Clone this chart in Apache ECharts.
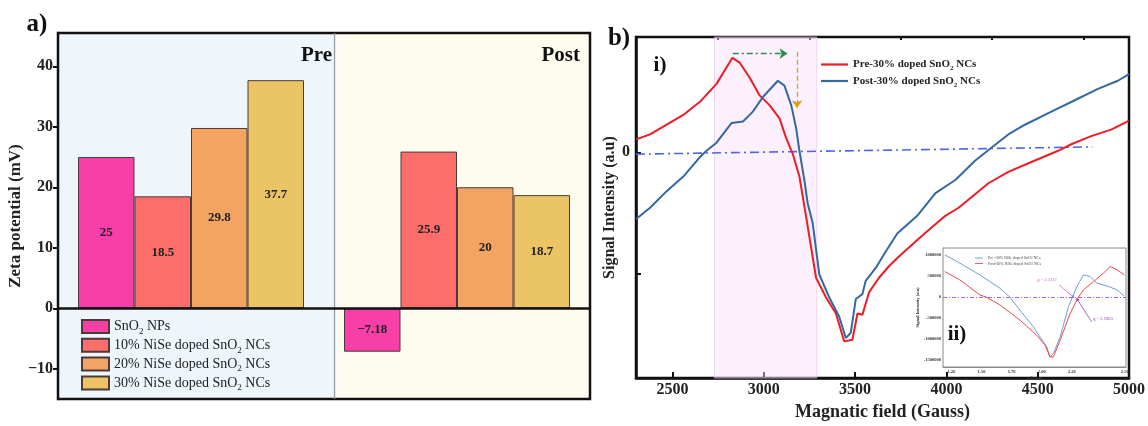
<!DOCTYPE html>
<html>
<head>
<meta charset="utf-8">
<script src="https://cdn.jsdelivr.net/npm/echarts@6/dist/echarts.min.js"></script>
<style>html,body{margin:0;padding:0;background:#fff;}#c{width:1148px;height:426px;}</style>
</head>
<body>
<div id="c"></div>
<script>
// ---------- (a) Zeta potential ----------
const zetaGroups = ['Pre', 'Post'];
const zetaSeriesNames = ['SnO2 NPs', '10% NiSe doped SnO2 NCs', '20% NiSe doped SnO2 NCs', '30% NiSe doped SnO2 NCs'];
const zetaPre = [25, 18.5, 29.8, 37.7];
const zetaPost = [-7.18, 25.9, 20, 18.7];
const zetaTickLabels = [-10, 0, 10, 20, 30, 40];
const zetaMinorTicks = [-5, 5, 15, 25, 35];

// ---------- (b-i) ESR spectra ----------
const esrNames = ['Pre-30% doped SnO2 NCs', 'Post-30% doped SnO2 NCs'];
const preField = [2301, 2377, 2468, 2559, 2650, 2741, 2828, 2868, 2922, 2977, 3031, 3086, 3122, 3158, 3195, 3231, 3286, 3340, 3395, 3440, 3485, 3513, 3540, 3576, 3631, 3685, 3740, 3865, 3994, 4067, 4230, 4339, 4485, 4612, 4684, 4793, 4902, 4998];
const preSignal = [0.107, 0.148, 0.228, 0.309, 0.417, 0.565, 0.780, 0.74, 0.618, 0.47, 0.39, 0.28, 0.12, -0.01, -0.2, -0.524, -1.035, -1.196, -1.33, -1.56, -1.546, -1.33, -1.34, -1.156, -1.035, -0.94, -0.86, -0.69, -0.524, -0.457, -0.255, -0.161, -0.067, 0.013, 0.067, 0.134, 0.188, 0.26];
const postField = [2301, 2377, 2468, 2559, 2650, 2686, 2741, 2823, 2886, 2940, 2995, 3077, 3113, 3150, 3177, 3195, 3222, 3240, 3267, 3304, 3358, 3413, 3449, 3476, 3504, 3540, 3558, 3613, 3667, 3731, 3840, 3940, 4049, 4158, 4248, 4339, 4430, 4575, 4703, 4830, 4939, 5000];
const postSignal = [-0.55, -0.457, -0.32, -0.2, -0.04, 0.013, 0.08, 0.242, 0.255, 0.336, 0.457, 0.591, 0.551, 0.39, 0.2, 0.013, -0.228, -0.42, -0.578, -1.008, -1.196, -1.357, -1.532, -1.49, -1.21, -1.17, -1.06, -0.954, -0.82, -0.67, -0.524, -0.336, -0.228, -0.067, 0.04, 0.148, 0.228, 0.336, 0.43, 0.524, 0.591, 0.645];
const baselineField = [2300, 4800];
const baselineSignal = [-0.015, 0.045];
const fieldTicks = [2500, 3000, 3500, 4000, 4500, 5000];
const fieldMinorTicks = [2750, 3250, 3750, 4250, 4750];
const highlightField = [2730, 3290];
const shiftArrowField = [2830, 3130];
const shiftArrowSignal = 0.815;
const dropArrowField = 3182;
const dropArrowSignal = [0.83, 0.363];

// ---------- (b-ii) inset, g-factor ----------
const insetNames = ['Pre -30% NiSe doped SnO2 NCs', 'Post-30% NiSe doped SnO2 NCs'];
const insetBlueG = [1.194, 1.319, 1.486, 1.653, 1.736, 1.819, 1.930, 2.013, 2.042, 2.069, 2.097, 2.153, 2.222, 2.292, 2.347, 2.403, 2.458, 2.542, 2.625, 2.686];
const insetBlueI = [1012000, 813000, 533000, 215000, 0, -304000, -703000, -1062000, -1182000, -1421000, -1340000, -943000, -225000, 254000, 533000, 493000, 335000, 270000, 175000, 30000];
const insetRedG = [1.194, 1.319, 1.486, 1.542, 1.653, 1.819, 1.958, 2.028, 2.069, 2.097, 2.153, 2.236, 2.305, 2.347, 2.430, 2.513, 2.569, 2.625, 2.686];
const insetRedI = [612000, 414000, 55000, 0, -184000, -543000, -902000, -1141000, -1421000, -1421000, -1021000, -383000, 0, 175000, 373000, 574000, 732000, 653000, 533000];
const insetTickValues = [1.25, 1.5, 1.75, 2.0, 2.25, 2.69];
const insetTickLabels = ['1.26', '1.50', '1.76', '2.00', '2.26', '2.50'];
const insetYTicks = [-1500000, -1000000, -500000, 0, 500000, 1000000];
const insetBands = [[2.208, 2.263], [2.263, 2.319]];
const gAnnotations = ['g = 2.1317', 'g = 2.1663'];

// ---------- styles ----------
const SERIF = "'Times New Roman','Liberation Serif','DejaVu Serif',serif";
const barColors = ['#f73fa7', '#fd6e6a', '#f3a463', '#ebc466'];
const subFmt = (name) => name.split('SnO2').map(p => p ? '{n|' + p + '}' : '').join('{n|SnO}{s|2}');
const minus = (v) => (v < 0 ? '\u2212' + Math.abs(v) : String(v));
const plain = (v) => String(v);

const chart = echarts.init(document.getElementById('c'), null, { renderer: 'canvas' });

const barSeries = zetaSeriesNames.map((name, i) => ({
  name: name,
  type: 'bar',
  xAxisIndex: 0,
  yAxisIndex: 0,
  data: [zetaPre[i], zetaPost[i]],
  barWidth: 56.5,
  barGap: '0%',
  z: 3,
  itemStyle: { color: barColors[i], borderColor: '#4a3a3a', borderWidth: 1 },
  label: {
    show: true, position: 'inside', fontFamily: SERIF, fontWeight: 'bold', fontSize: 13, color: '#222',
    formatter: (p) => minus(p.value)
  }
}));
// thick zero line across panel (a)
barSeries[0].markLine = { silent: true, symbol: 'none', label: { show: false }, z: 10,
  lineStyle: { color: '#111', width: 2.6, type: 'solid' }, data: [{ yAxis: 0 }] };

const option = {
  animation: false,
  backgroundColor: '#ffffff',
  grid: [
    { left: 58, top: 33, width: 532, height: 366, show: true, borderColor: '#111', borderWidth: 2.5, backgroundColor: 'transparent', z: 4 },
    { left: 636, top: 37, width: 495, height: 349, show: true, borderColor: '#111', borderWidth: 2.5, backgroundColor: 'transparent' },
    { left: 943, top: 248, width: 183, height: 119, show: true, borderColor: '#8a8a8a', borderWidth: 1, backgroundColor: '#ffffff', z: 5 }
  ],
  xAxis: [
    { type: 'category', gridIndex: 0, data: zetaGroups,
      axisLine: { show: false },
      axisTick: { show: false }, axisLabel: { show: false }, splitLine: { show: false } },
    { type: 'value', gridIndex: 0, min: 0, max: 1, show: false },
    { type: 'value', gridIndex: 1, min: 2300, max: 5000,
      axisLine: { show: true, onZero: false, lineStyle: { color: '#111', width: 2.5 } },
      axisTick: { inside: true, length: 6, lineStyle: { color: '#111', width: 2 }, customValues: fieldTicks },
      axisLabel: { customValues: fieldTicks, fontFamily: SERIF, fontWeight: 'bold', fontSize: 16, color: '#222', margin: 4, formatter: plain },
      splitLine: { show: false },
      name: 'Magnatic field (Gauss)', nameLocation: 'middle', nameGap: 18,
      nameTextStyle: { fontFamily: SERIF, fontWeight: 'bold', fontSize: 18, color: '#222' } },
    { type: 'value', gridIndex: 1, min: 2300, max: 5000,
      axisLine: { show: false, onZero: false }, axisLabel: { show: false }, splitLine: { show: false },
      axisTick: { inside: true, length: 3, lineStyle: { color: '#111', width: 2 }, customValues: fieldMinorTicks } },
    { type: 'value', gridIndex: 2, min: 1.18, max: 2.70,
      axisLine: { show: true, onZero: false, lineStyle: { color: '#8a8a8a', width: 1 } },
      axisTick: { inside: true, length: 2, lineStyle: { color: '#555', width: 0.8 }, customValues: insetTickValues },
      axisLabel: { customValues: insetTickValues, margin: 2, fontFamily: SERIF, fontWeight: 'bold', fontSize: 4.5, color: '#333',
        formatter: (v) => { const k = insetTickValues.findIndex(t => Math.abs(t - v) < 1e-6); return k >= 0 ? insetTickLabels[k] : ''; } },
      splitLine: { show: false },
      name: 'g-factor', nameLocation: 'middle', nameGap: 7,
      nameTextStyle: { fontFamily: SERIF, fontWeight: 'bold', fontSize: 4.5, color: '#333' } }
  ],
  yAxis: [
    { type: 'value', gridIndex: 0, min: -15, max: 45.5,
      axisLine: { show: true, onZero: false, lineStyle: { color: '#111', width: 2.5 } },
      axisTick: { show: true, inside: false, length: 5, lineStyle: { color: '#111', width: 2 }, customValues: zetaTickLabels },
      axisLabel: { customValues: zetaTickLabels, fontFamily: SERIF, fontWeight: 'bold', fontSize: 16, color: '#222', margin: 5, formatter: minus },
      splitLine: { show: false },
      name: 'Zeta potential (mV)', nameLocation: 'middle', nameGap: 26,
      nameTextStyle: { fontFamily: SERIF, fontWeight: 'bold', fontSize: 17, color: '#222' } },
    { type: 'value', gridIndex: 0, min: -15, max: 45.5,
      axisLine: { show: false, onZero: false }, axisLabel: { show: false }, splitLine: { show: false },
      axisTick: { show: true, inside: true, length: 3, lineStyle: { color: '#111', width: 2 }, customValues: zetaMinorTicks } },
    { type: 'value', gridIndex: 1, min: -1.863, max: 0.952,
      axisLine: { show: true, onZero: false, lineStyle: { color: '#111', width: 2.5 } },
      axisTick: { show: true, inside: true, length: 5, lineStyle: { color: '#111', width: 2 }, customValues: [-1, 0] },
      axisLabel: { customValues: [0], fontFamily: SERIF, fontWeight: 'bold', fontSize: 16, color: '#222', margin: 6 },
      splitLine: { show: false },
      name: 'Signal Intensity (a.u)', nameLocation: 'middle', nameGap: 13,
      nameTextStyle: { fontFamily: SERIF, fontWeight: 'bold', fontSize: 16, color: '#222' } },
    { type: 'value', gridIndex: 2, min: -1660000, max: 1172000,
      axisLine: { show: true, onZero: false, lineStyle: { color: '#8a8a8a', width: 1 } },
      axisTick: { show: true, inside: true, length: 2, lineStyle: { color: '#555', width: 0.8 }, customValues: insetYTicks },
      axisLabel: { customValues: insetYTicks, margin: 2, fontFamily: SERIF, fontWeight: 'bold', fontSize: 4.5, color: '#333', formatter: plain },
      splitLine: { show: false },
      name: 'Signal Intensity (a.u)', nameLocation: 'middle', nameGap: 16,
      nameTextStyle: { fontFamily: SERIF, fontWeight: 'bold', fontSize: 4.5, color: '#333' } }
  ],
  legend: [
    { data: zetaSeriesNames, orient: 'vertical', left: 81, top: 319, padding: 0, itemWidth: 27, itemHeight: 13, itemGap: 1.8, icon: 'rect',
      textStyle: { fontFamily: SERIF, fontSize: 14, color: '#222',
        rich: { n: { fontSize: 14, fontFamily: SERIF, lineHeight: 13 }, s: { fontSize: 9, fontFamily: SERIF, lineHeight: 9, verticalAlign: 'bottom', padding: [0, 0, -3, 0] } } },
      formatter: subFmt },
    { data: esrNames, orient: 'vertical', left: 821, top: 59, padding: 0, itemWidth: 27, itemHeight: 2.2, itemGap: 3.5, icon: 'rect',
      textStyle: { fontFamily: SERIF, fontSize: 11, fontWeight: 'bold', color: '#222',
        rich: { n: { fontSize: 11, fontWeight: 'bold', fontFamily: SERIF, lineHeight: 11 }, s: { fontSize: 7, fontWeight: 'bold', fontFamily: SERIF, lineHeight: 7, verticalAlign: 'bottom', padding: [0, 0, -2, 0] } } },
      formatter: subFmt },
    { data: insetNames, orient: 'vertical', left: 975, top: 256, padding: 0, itemWidth: 8, itemHeight: 0.8, itemGap: 1.5, z: 10, icon: 'rect',
      textStyle: { fontFamily: SERIF, fontSize: 4, color: '#444',
        rich: { n: { fontSize: 4, fontFamily: SERIF, lineHeight: 4 }, s: { fontSize: 3, fontFamily: SERIF, lineHeight: 3, verticalAlign: 'bottom' } } },
      formatter: subFmt }
  ],
  series: [
    // background panels for Pre / Post
    { type: 'line', xAxisIndex: 1, yAxisIndex: 0, data: [[0, 0], [1, 0]], symbol: 'none', silent: true, z: 0,
      lineStyle: { opacity: 0 },
      markArea: { silent: true, data: [
        [{ xAxis: 0, itemStyle: { color: '#eef6fc' } }, { xAxis: 0.524 }],
        [{ xAxis: 0.524, itemStyle: { color: '#fdfcef' } }, { xAxis: 1 }]
      ] },
      markLine: { silent: true, symbol: 'none', label: { show: false }, lineStyle: { color: '#9a9a9a', width: 1.2, type: 'solid' },
        data: [{ xAxis: 0.524 }] } },
    ...barSeries,
    // ESR main plot
    { name: 'Dashed baseline', type: 'line', xAxisIndex: 2, yAxisIndex: 2, symbol: 'none', z: 2,
      data: baselineField.map((f, i) => [f, baselineSignal[i]]),
      lineStyle: { color: '#4d63ea', width: 1.6, type: [9, 4, 2, 4] },
      markArea: { silent: true, data: [[{ xAxis: highlightField[0], itemStyle: { color: 'rgba(246,222,248,0.45)', borderColor: 'rgba(235,190,240,0.6)', borderWidth: 1 } }, { xAxis: highlightField[1] }]] },
      markLine: { silent: true, label: { show: false }, symbol: ['none', 'arrow'], symbolSize: 8,
        data: [
          [{ coord: [shiftArrowField[0], shiftArrowSignal], lineStyle: { color: '#2e8b4f', width: 1.3, type: [6, 3, 2, 3] } }, { coord: [shiftArrowField[1], shiftArrowSignal] }],
          [{ coord: [dropArrowField, dropArrowSignal[0]], lineStyle: { color: '#d9a020', width: 1.3, type: [5, 3] } }, { coord: [dropArrowField, dropArrowSignal[1]] }]
        ] } },
    { name: esrNames[0], type: 'line', xAxisIndex: 2, yAxisIndex: 2, symbol: 'none', z: 3,
      data: preField.map((f, i) => [f, preSignal[i]]), itemStyle: { color: '#ee1c23' }, lineStyle: { color: '#ee1c23', width: 2 } },
    { name: esrNames[1], type: 'line', xAxisIndex: 2, yAxisIndex: 2, symbol: 'none', z: 3,
      data: postField.map((f, i) => [f, postSignal[i]]), itemStyle: { color: '#35689f' }, lineStyle: { color: '#35689f', width: 2 } },
    // inset
    { name: insetNames[0], type: 'line', xAxisIndex: 4, yAxisIndex: 3, symbol: 'none', z: 8,
      data: insetBlueG.map((g, i) => [g, insetBlueI[i]]), itemStyle: { color: '#5f93c6' }, lineStyle: { color: '#5f93c6', width: 0.9 },
      markArea: { silent: true, data: [
        [{ xAxis: insetBands[0][0], itemStyle: { color: '#d9efb4' } }, { xAxis: insetBands[0][1] }],
        [{ xAxis: insetBands[1][0], itemStyle: { color: '#f6f2a8' } }, { xAxis: insetBands[1][1] }]
      ] },
      markLine: { silent: true, label: { show: false }, symbol: 'none',
        data: [[{ coord: [1.18, 0], lineStyle: { color: '#a34de8', width: 0.9, type: [4, 2, 1, 2] } }, { coord: [2.70, 0] }]] } },
    { name: insetNames[1], type: 'line', xAxisIndex: 4, yAxisIndex: 3, symbol: 'none', z: 8,
      data: insetRedG.map((g, i) => [g, insetRedI[i]]), itemStyle: { color: '#e8353a' }, lineStyle: { color: '#e8353a', width: 0.9 },
      markLine: { silent: true, label: { show: false }, symbol: ['none', 'arrow'], symbolSize: 3,
        data: [
          [{ coord: [2.144, 294000], lineStyle: { color: '#f040c8', width: 0.7, type: 'solid' } }, { coord: [2.27, -10000] }],
          [{ coord: [2.414, -585000], lineStyle: { color: '#7a2aa8', width: 0.7, type: 'solid' } }, { coord: [2.29, -25000] }]
        ] } }
  ],
  graphic: [
    { type: 'text', x: 37, y: 25, style: { text: 'a)', font: 'bold 25px ' + SERIF, fill: '#111', align: 'center', verticalAlign: 'middle' } },
    { type: 'text', x: 619, y: 39, style: { text: 'b)', font: 'bold 25px ' + SERIF, fill: '#111', align: 'center', verticalAlign: 'middle' } },
    { type: 'text', x: 660, y: 66, style: { text: 'i)', font: 'bold 21px ' + SERIF, fill: '#111', align: 'center', verticalAlign: 'middle' } },
    { type: 'text', x: 332, y: 56, z: 10, style: { text: 'Pre', font: 'bold 21px ' + SERIF, fill: '#111', align: 'right', verticalAlign: 'middle' } },
    { type: 'text', x: 580, y: 56, z: 10, style: { text: 'Post', font: 'bold 21px ' + SERIF, fill: '#111', align: 'right', verticalAlign: 'middle' } },
    { type: 'text', x: 957, y: 335, z: 20, style: { text: 'ii)', font: 'bold 21px ' + SERIF, fill: '#111', align: 'center', verticalAlign: 'middle' } },
    { type: 'text', x: 1047, y: 280, z: 20, style: { text: gAnnotations[0], font: '4.5px ' + SERIF, fill: '#f040c8', align: 'center', verticalAlign: 'middle' } },
    { type: 'text', x: 1103, y: 319, z: 20, style: { text: gAnnotations[1], font: '4.5px ' + SERIF, fill: '#7a2aa8', align: 'center', verticalAlign: 'middle' } }
  ]
};
chart.setOption(option);
</script>
</body>
</html>
